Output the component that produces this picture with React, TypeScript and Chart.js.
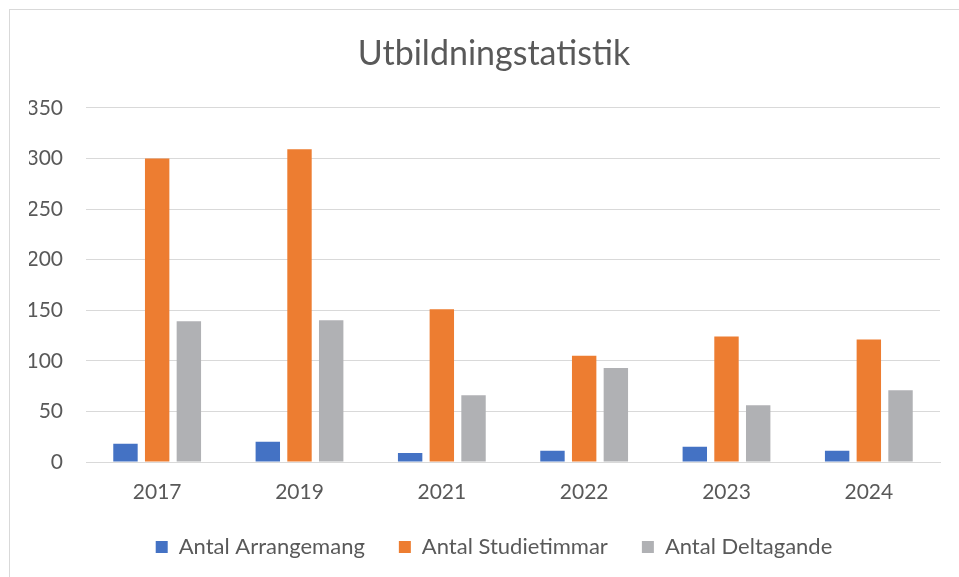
import React, { useEffect, useRef } from "react";
import { Chart, registerables } from "chart.js";

Chart.register(...registerables);

const years = ["2017", "2019", "2021", "2022", "2023", "2024"];
const arrangemang = [18, 20, 9, 11, 15, 11];
const studietimmar = [300, 309, 151, 105, 124, 121];
const deltagande = [139, 140, 66, 93, 56, 71];
const yTicks = [0, 50, 100, 150, 200, 250, 300, 350];

const FONT = "Lato, 'Open Sans', sans-serif";
const TEXT = "#595959";

export default function App() {
  const ref = useRef<HTMLCanvasElement | null>(null);

  useEffect(() => {
    if (!ref.current) return;
    const chart = new Chart(ref.current, {
      type: "bar",
      data: {
        labels: years,
        datasets: [
          { label: "Antal Arrangemang", data: arrangemang, backgroundColor: "#4472C4" },
          { label: "Antal Studietimmar", data: studietimmar, backgroundColor: "#ED7D31" },
          { label: "Antal Deltagande", data: deltagande, backgroundColor: "#B0B1B4" },
        ],
      },
      options: {
        responsive: false,
        animation: false,
        events: [],
        datasets: { bar: { categoryPercentage: 0.668, barPercentage: 0.77 } },
        layout: { padding: { left: 29, right: 0, top: 0, bottom: 9 } },
        plugins: {
          title: {
            display: true,
            text: "Utbildningstatistik",
            color: TEXT,
            font: { family: FONT, size: 34, weight: "normal", lineHeight: 1.2 },
            padding: { top: 34, bottom: 33 },
          },
          legend: {
            position: "bottom",
            labels: {
              color: TEXT,
              font: { family: FONT, size: 22 },
              boxWidth: 12,
              boxHeight: 12,
              padding: 34,
            },
          },
          tooltip: { enabled: false },
        },
        scales: {
          x: {
            grid: { display: false, drawTicks: false },
            border: { display: true, color: "#d9d9d9", width: 1 },
            ticks: { color: TEXT, font: { family: FONT, size: 21 }, padding: 18 },
            afterFit: (s: any) => {
              s.height = 40;
            },
          },
          y: {
            min: 0,
            max: 350,
            afterBuildTicks: (s: any) => {
              s.ticks = yTicks.map((v) => ({ value: v }));
            },
            grid: { color: "#d9d9d9", lineWidth: 1, drawTicks: false },
            border: { display: false },
            ticks: { color: TEXT, font: { family: FONT, size: 21 }, padding: 23 },
            afterFit: (s: any) => {
              s.width = 57;
            },
          },
          yRight: {
            type: "linear",
            position: "right",
            min: 0,
            max: 350,
            grid: { display: false, drawTicks: false },
            border: { display: false },
            ticks: { display: false },
            afterFit: (s: any) => {
              s.width = 19;
            },
          },
        },
      },
    });
    return () => chart.destroy();
  }, []);

  return (
    <div style={{ position: "fixed", left: 0, top: 0, width: 959, height: 577, background: "#fff", overflow: "hidden" }}>
      <div
        style={{
          position: "absolute",
          left: 9,
          top: 9,
          width: 960,
          height: 580,
          borderTop: "1px solid #d9d9d9",
          borderLeft: "1px solid #d9d9d9",
        }}
      />
      <canvas ref={ref} width={959} height={577} style={{ position: "absolute", left: 0, top: 0 }} />
    </div>
  );
}
